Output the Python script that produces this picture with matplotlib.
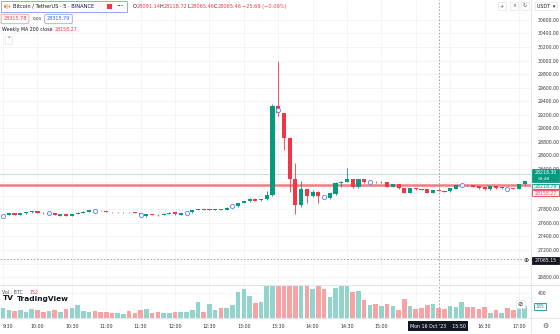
import matplotlib.pyplot as plt
from matplotlib.patches import Rectangle, Circle

# 5-minute candles, 09:30 .. 17:05 (Mon 16 Oct '23)
opens = [27700, 27717, 27745, 27722, 27740, 27755, 27770, 27750, 27745, 27748,
         27710, 27727, 27710, 27733, 27750, 27765, 27785, 27782, 27776, 27763,
         27758, 27760, 27764, 27760, 27745, 27700, 27732, 27722, 27718, 27736,
         27757, 27720, 27747, 27757, 27791, 27800, 27790, 27792, 27803, 27791,
         27825, 27855, 27893, 27920, 27960, 27932, 27950, 28010, 29329, 29220,
         28860, 28245, 27865, 28097, 27998, 28062, 27995, 27975, 28028, 28185,
         28210, 28245, 28127, 28245, 28200, 28210, 28200, 28200, 28135, 28170,
         28112, 28047, 28110, 28100, 28097, 28047, 28091.14, 28070, 28068, 28102,
         28160, 28165, 28160, 28140, 28125, 28098, 28140, 28110, 28115, 28110,
         28105, 28175]
highs = [27718, 27752, 27750, 27748, 27765, 27775, 27774, 27756, 27752, 27752,
         27732, 27731, 27736, 27755, 27770, 27790, 27792, 27786, 27780, 27768,
         27766, 27768, 27768, 27765, 27750, 27738, 27736, 27728, 27742, 27757,
         27762, 27750, 27758, 27795, 27808, 27806, 27805, 27806, 27808, 27830,
         27852, 27893, 27930, 27965, 27966, 27955, 28077, 29355, 30000, 29225,
         28870, 28482, 28220, 28105, 28080, 28070, 28005, 28045, 28200, 28215,
         28408, 28252, 28250, 28250, 28212, 28215, 28216, 28205, 28175, 28174,
         28118, 28115, 28116, 28106, 28102, 28090, 28118.72, 28075, 28116, 28165,
         28172, 28170, 28164, 28145, 28130, 28145, 28145, 28128, 28122, 28114,
         28172, 28225]
lows = [27690, 27712, 27715, 27718, 27735, 27750, 27745, 27735, 27738, 27712,
        27702, 27703, 27705, 27728, 27745, 27760, 27778, 27770, 27758, 27752,
        27752, 27754, 27752, 27740, 27705, 27692, 27712, 27710, 27714, 27730,
        27722, 27712, 27742, 27752, 27786, 27785, 27786, 27788, 27785, 27788,
        27820, 27840, 27888, 27912, 27925, 27928, 27945, 28000, 29180, 28678,
        28060, 27732, 27840, 27900, 27985, 27900, 27960, 27960, 28020, 28130,
        28205, 28120, 28110, 28195, 28195, 28195, 28196, 28130, 28130, 28105,
        28040, 28040, 28094, 28085, 28040, 28042, 28065.46, 28058, 28062, 28098,
        28155, 28150, 28130, 28105, 28092, 28094, 28108, 28105, 28100, 28096,
        28100, 28168]
closes = [27712, 27746, 27720, 27745, 27760, 27770, 27748, 27740, 27748, 27717,
          27727, 27707, 27732, 27750, 27765, 27785, 27782, 27775, 27763, 27758,
          27762, 27764, 27757, 27745, 27715, 27735, 27716, 27716, 27738, 27752,
          27728, 27747, 27752, 27790, 27800, 27790, 27800, 27801, 27790, 27825,
          27845, 27890, 27925, 27960, 27930, 27950, 28018, 29333, 29220, 28860,
          28245, 27865, 28097, 27998, 28062, 27998, 27988, 28040, 28195, 28210,
          28250, 28127, 28245, 28200, 28208, 28200, 28212, 28135, 28170, 28112,
          28047, 28110, 28098, 28090, 28047, 28085, 28065.46, 28062, 28112, 28160,
          28165, 28155, 28135, 28112, 28098, 28140, 28112, 28125, 28105, 28100,
          28170, 28218.30]
volumes = [164, 120, 110, 130, 100, 140, 120, 90, 110, 130,
           100, 149, 164, 210, 108, 103, 108, 92, 97, 72,
           82, 56, 108, 87, 123, 139, 82, 92, 87, 87,
           103, 103, 103, 123, 262, 103, 221, 123, 154, 164,
           200, 420, 456, 344, 241, 250, 520, 2500, 1900, 1500,
           1300, 1400, 700, 600, 467, 510, 467, 328, 472, 510,
           510, 410, 436, 282, 205, 221, 185, 215, 190, 123,
           308, 190, 139, 154, 200, 226, 152, 139, 190, 174,
           251, 174, 174, 149, 169, 82, 128, 82, 154, 123,
           262, 185]

marker_bars = [0, 8, 16, 24, 32, 40, 48, 56, 64, 80, 88]
marker_prices = [27707, 27747, 27782, 27717, 27752, 27845, 29270, 27988, 28210, 28165, 28102]

# 15:30 and 16:00 sit under the crosshair time label
time_labels = ['9:30', '10:00', '10:30', '11:00', '11:30', '12:00', '12:30', '13:00',
               '13:30', '14:00', '14:30', '15:00', '', '', '16:30', '17:00']
price_ticks = [26800, 27000, 27200, 27400, 27600, 27800, 28000, 28200, 28400, 28600,
               28800, 29000, 29200, 29400, 29600, 29800, 30000, 30200, 30400, 30600]
# ticks covered by the last-price / MA / crosshair labels
hidden_ticks = [27000, 28000, 28200]

ma200 = 28158.27
last_price = 28218.30
ask_price = 28218.79
bid_line = 28318.0
cross_bar = 76
cross_price = 27065.15

UP = '#089981'
DOWN = '#f23645'
UP_VOL = '#92d3cb'
DOWN_VOL = '#f7a3a6'
GRID = '#f2f3f6'
TXT = '#131722'

W, H = 560, 334


def fx(px):
    return px / W


def fy(py):
    return 1 - py / H


fig = plt.figure(figsize=(5.6, 3.34), dpi=100)
fig.patch.set_facecolor('white')

x_lo, x_hi = -0.54, 92.1
ax = fig.add_axes([0, fy(284), fx(531), fy(0) - fy(284)])
axv = fig.add_axes([0, fy(318), fx(531), fy(285) - fy(318)], sharex=ax)
axt = fig.add_axes([0, 0, fx(531), fy(318)], sharex=ax)

for a in (ax, axv, axt):
    a.set_facecolor('white')
    for s in a.spines.values():
        s.set_visible(False)
    a.tick_params(length=0, labelleft=False, labelbottom=False)
    a.set_xticks([])

ax.set_xlim(x_lo, x_hi)
ax.set_ylim(26698, 30895)
axv.set_ylim(0, 525)
axt.set_ylim(0, 1)
axt.set_yticks([])

# grid
idx = list(range(len(opens)))
for k in range(0, 96, 6):
    ax.axvline(k, color=GRID, lw=0.6, zorder=0)
    axv.axvline(k, color=GRID, lw=0.6, zorder=0)
for p in price_ticks:
    ax.axhline(p, color=GRID, lw=0.6, zorder=0)
axv.axhline(400, color=GRID, lw=0.6, zorder=0)

# price axis labels
ax.yaxis.tick_right()
ax.set_yticks(price_ticks)
ax.set_yticklabels(['' if p in hidden_ticks else '%.2f' % p for p in price_ticks],
                   fontsize=3.3, color='#333333')
ax.tick_params(axis='y', pad=4.5, length=0, labelright=True)
axv.yaxis.tick_right()
axv.set_yticks([400])
axv.set_yticklabels(['400'], fontsize=3.3, color='#333333')
axv.tick_params(axis='y', pad=4.5, length=0, labelright=True)

# candles + volume
for i in idx:
    o, h, l, c = opens[i], highs[i], lows[i], closes[i]
    col = UP if c >= o else DOWN
    ax.vlines(i, l, h, color=col, lw=0.6, zorder=3)
    body = max(abs(c - o), 6)
    ax.bar(i, body, bottom=min(o, c), width=0.72, color=col, lw=0, zorder=4)
    axv.bar(i, volumes[i], width=0.8, color=UP_VOL if c >= o else DOWN_VOL, lw=0, zorder=2)

ax.plot(marker_bars, marker_prices, 'o', ms=3, mfc='white', mec='#6d8ff0', mew=0.7, zorder=6)

# horizontal lines
ax.axhline(ma200, color='#f47c80', lw=1.8, zorder=2)
ax.axhline(bid_line, color='#bfe3dc', lw=0.7, zorder=2)

# crosshair
ax.axhline(cross_price, color='#9598a1', lw=0.6, ls=(0, (2, 2)), zorder=7)
for a in (ax, axv):
    a.axvline(cross_bar, color='#9598a1', lw=0.6, ls=(0, (2, 2)), zorder=7)

# separators
fig.add_artist(plt.Line2D([0, 1], [fy(284.5), fy(284.5)], color='#e0e3eb', lw=0.8))
fig.add_artist(plt.Line2D([0, 1], [fy(318), fy(318)], color='#e0e3eb', lw=0.6))
fig.add_artist(plt.Line2D([fx(531), fx(531)], [0, 1], color='#e0e3eb', lw=0.6))

# time axis
for k, lab in enumerate(time_labels):
    if lab:
        x = max(k * 6, 0.9)
        axt.text(x, 0.45, lab, fontsize=3.4, color='#333333', ha='center', va='center', clip_on=True)


def price_box(y0, y1, text, fc, ec, tc):
    fig.add_artist(Rectangle((fx(531.5), fy(y1)), fx(27), fy(y0) - fy(y1), transform=fig.transFigure,
                             fc=fc, ec=ec, lw=0.6, zorder=9))
    fig.text(fx(535), fy((y0 + y1) / 2), text, fontsize=3.3, color=tc, ha='left', va='center', zorder=10)


price_box(169, 182.5, '', UP, UP, 'white')
fig.text(fx(535), fy(173), '%.2f' % last_price, fontsize=3.3, color='white', ha='left', va='center', zorder=10)
fig.text(fx(538), fy(179), '03:48', fontsize=3.1, color='white', ha='left', va='center', zorder=10)
price_box(183.5, 189.5, '%.2f' % ask_price, '#e6f4f1', UP, UP)
price_box(190.3, 196.3, '%.2f' % ma200, 'white', DOWN, DOWN)
price_box(256.5, 263.5, '%.2f' % cross_price, TXT, TXT, 'white')
fig.text(fx(526.5), fy(260), '\u2295', fontsize=4.5, color=TXT, ha='center', va='center', zorder=10,
         bbox=dict(boxstyle='square,pad=0.2', fc='white', ec='none'))
fig.add_artist(Rectangle((fx(534), fy(310)), fx(12), fy(303) - fy(310), transform=fig.transFigure,
                         fc='white', ec=UP, lw=0.6, zorder=9))
fig.text(fx(540), fy(306.5), '%d' % volumes[-1], fontsize=3.3, color=UP, ha='center', va='center', zorder=10)
fig.text(fx(520), fy(304), '\u2298', fontsize=4.5, color=TXT, ha='center', va='center', zorder=10,
         bbox=dict(boxstyle='square,pad=0.3', fc='white', ec='#e0e3eb', lw=0.5))

# crosshair time label
fig.text(fx(438), fy(326), "Mon 16 Oct '23    15:50", fontsize=3.4, color='white', ha='center', va='center',
         zorder=10, bbox=dict(boxstyle='square,pad=0.5', fc=TXT, ec='none'))
fig.text(fx(545), fy(326), '\u2699', fontsize=5, color='#555555', ha='center', va='center')

# header
fig.add_artist(Rectangle((fx(1), fy(12)), fx(126), fy(1) - fy(12), transform=fig.transFigure,
                         fc='white', ec='#90a8f5', lw=0.7, zorder=9))
fig.add_artist(Circle((fx(7), fy(6.5)), fx(3.2), transform=fig.transFigure, fc='#f7931a', ec='none', zorder=10))
fig.text(fx(7), fy(6.5), 'B', fontsize=3.2, color='white', fontweight='bold', ha='center', va='center', zorder=11)
fig.text(fx(13), fy(6.5), 'Bitcoin / TetherUS \u00b7 5 \u00b7 BINANCE', fontsize=3.7, color=TXT,
         ha='left', va='center', zorder=10)
fig.add_artist(Rectangle((fx(107), fy(9)), fx(5), fy(4) - fy(9), transform=fig.transFigure,
                         fc=DOWN, ec='none', zorder=10))
fig.text(fx(120), fy(6.5), '\u2022\u2022\u2022', fontsize=3, color=TXT, ha='center', va='center', zorder=10)

hx = 133
for key, val in [('O', '28091.14'), ('H', '28118.72'), ('L', '28065.46'), ('C', '28065.46')]:
    fig.text(fx(hx), fy(6.5), key, fontsize=3.6, color=TXT, ha='left', va='center')
    fig.text(fx(hx + 3.2), fy(6.5), val, fontsize=3.6, color=DOWN, ha='left', va='center')
    hx += 27
fig.text(fx(hx + 1), fy(6.5), '\u221225.69 (\u22120.09%)', fontsize=3.6, color=DOWN, ha='left', va='center')

fig.text(fx(15), fy(19), '28315.78', fontsize=3.5, color=DOWN, ha='center', va='center',
         bbox=dict(boxstyle='round,pad=0.45,rounding_size=0.4', fc='white', ec='#f59aa0', lw=0.6))
fig.text(fx(37), fy(19), '0.01', fontsize=3.1, color=TXT, ha='center', va='center')
fig.text(fx(58.5), fy(19), '28315.79', fontsize=3.5, color='#2962ff', ha='center', va='center',
         bbox=dict(boxstyle='round,pad=0.45,rounding_size=0.4', fc='white', ec='#8fa9f7', lw=0.6))

fig.text(fx(2), fy(29.5), 'Weekly MA 200 close', fontsize=3.4, color=TXT, ha='left', va='center')
fig.text(fx(55), fy(29.5), '%.2f' % ma200, fontsize=3.4, color=DOWN, ha='left', va='center')
fig.text(fx(8.5), fy(40), '\u02c4', fontsize=4, color=TXT, ha='center', va='center',
         bbox=dict(boxstyle='square,pad=0.3', fc='white', ec='#e0e3eb', lw=0.5))

# top-right buttons
for bx, sym in [(502, '+'), (514, '\u00d7'), (525, '\u21bb')]:
    fig.text(fx(bx), fy(6), sym, fontsize=3.6, color='#555555', ha='center', va='center',
             bbox=dict(boxstyle='square,pad=0.35', fc='white', ec='#e0e3eb', lw=0.5))
fig.text(fx(537), fy(6), 'USDT  \u25be', fontsize=3.4, color=TXT, ha='left', va='center',
         bbox=dict(boxstyle='square,pad=0.4', fc='white', ec='#e0e3eb', lw=0.5))

# volume legend + watermark
fig.text(fx(2), fy(293), 'Vol \u00b7 BTC', fontsize=3.4, color='#555555', ha='left', va='center')
fig.text(fx(29), fy(293), '152', fontsize=3.4, color=DOWN, ha='left', va='center')
fig.text(fx(3), fy(298.5), 'TV', fontsize=5.3, color=TXT, fontweight='bold', ha='left', va='center')
fig.text(fx(17), fy(298.5), 'TradingView', fontsize=5.3, color=TXT, fontweight='bold', ha='left', va='center')

plt.savefig('out.png', dpi=100)
